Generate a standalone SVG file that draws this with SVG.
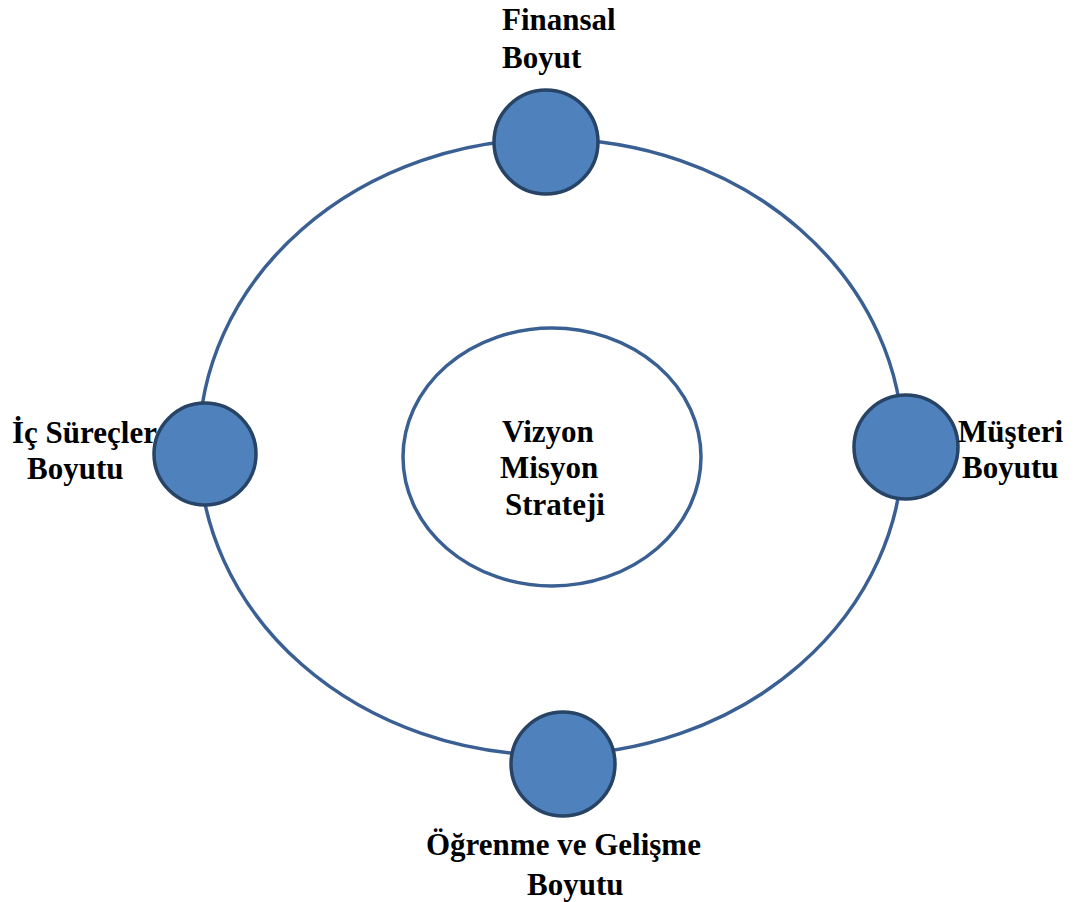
<svg xmlns="http://www.w3.org/2000/svg" width="1078" height="902" viewBox="0 0 1078 902">
<style>
.ring{fill:none;stroke:#3a6093;stroke-width:3.5}
.node{fill:#4f81bd;stroke:#274466;stroke-width:3.5}
.core{fill:#ffffff;stroke:#3a6093;stroke-width:3.5}
.lbl{font-family:"Liberation Serif","Times New Roman",serif;font-weight:bold;font-size:31px;fill:#000}
</style>
<rect width="1078" height="902" fill="#ffffff"/>
<g id="connectors">
<ellipse class="ring" cx="551" cy="447" rx="352" ry="308"/>
</g>
<g id="center">
<ellipse class="core" cx="552" cy="457" rx="149" ry="129"/>
<text class="lbl" x="502" y="442">Vizyon</text>
<text class="lbl" x="500" y="478">Misyon</text>
<text class="lbl" x="505" y="515">Strateji</text>
</g>
<g id="finansal">
<circle class="node" cx="546" cy="142" r="52"/>
<text class="lbl" x="502" y="30">Finansal</text>
<text class="lbl" x="502" y="68">Boyut</text>
</g>
<g id="ic-surecler">
<circle class="node" cx="205" cy="454" r="51"/>
<text class="lbl" x="12" y="443">İç Süreçler</text>
<text class="lbl" x="27" y="479">Boyutu</text>
</g>
<g id="musteri">
<circle class="node" cx="906" cy="447" r="52"/>
<text class="lbl" x="958" y="442">Müşteri</text>
<text class="lbl" x="962" y="478">Boyutu</text>
</g>
<g id="ogrenme">
<circle class="node" cx="563" cy="764" r="52"/>
<text class="lbl" x="426" y="855">Öğrenme ve Gelişme</text>
<text class="lbl" x="527" y="895">Boyutu</text>
</g>
</svg>
